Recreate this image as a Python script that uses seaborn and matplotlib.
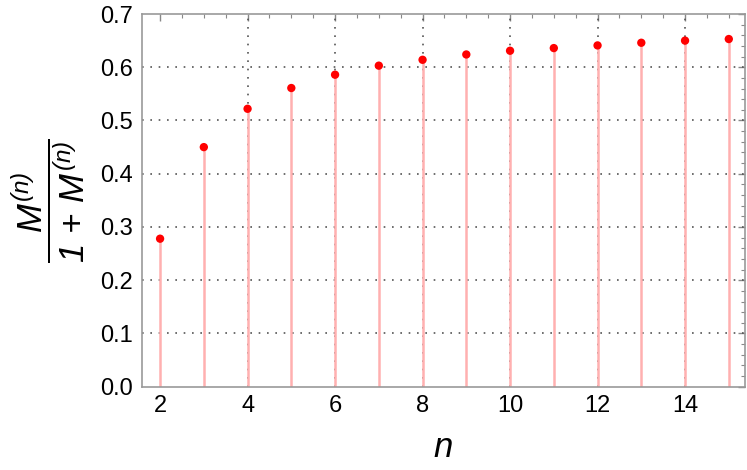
import matplotlib
matplotlib.use("Agg")
import matplotlib.pyplot as plt
import numpy as np
import pandas as pd
import seaborn as sns
from matplotlib.ticker import MultipleLocator

n_vals = [2, 3, 4, 5, 6, 7, 8, 9, 10, 11, 12, 13, 14, 15]
ratio = [0.278, 0.450, 0.522, 0.561, 0.586, 0.603, 0.614, 0.624,
         0.631, 0.636, 0.641, 0.646, 0.650, 0.653]
x_ticks = [2, 4, 6, 8, 10, 12, 14]
y_ticks = [0.0, 0.1, 0.2, 0.3, 0.4, 0.5, 0.6, 0.7]

df = pd.DataFrame({'n': n_vals, 'ratio': ratio})

sns.set_style("white")
plt.rcParams['font.family'] = ['Liberation Sans', 'DejaVu Sans']
plt.rcParams['mathtext.fontset'] = 'custom'
plt.rcParams['mathtext.it'] = 'Liberation Sans:italic'
plt.rcParams['mathtext.rm'] = 'Liberation Sans:italic'

fig = plt.figure(figsize=(7.47, 4.70), dpi=100)
ax = fig.add_axes([0.1897, 0.1772, 0.8076, 0.793])

# grid (none at the first tick, x=2)
for x in x_ticks[1:]:
    ax.axvline(x, color='#555555', lw=1.2, ls=(0, (1, 4)), zorder=1)
for y in y_ticks[1:-1]:
    ax.axhline(y, color='#555555', lw=1.2, ls=(0, (1, 4)), zorder=1)

# stems
ax.vlines(df['n'], 0, df['ratio'], color='#ffb0b0', lw=1.8, zorder=2)
sns.scatterplot(data=df, x='n', y='ratio', color='#ff0000', s=36,
                edgecolor='none', zorder=3, ax=ax)

ax.set_xlim(1.58, 15.37)
ax.set_ylim(0, 0.7)
ax.set_xticks(x_ticks)
ax.set_yticks(y_ticks)
ax.set_yticklabels([f'{v:.1f}' for v in y_ticks])
ax.xaxis.set_minor_locator(MultipleLocator(0.5))
ax.yaxis.set_minor_locator(MultipleLocator(0.02))
ax.tick_params(which='both', direction='in', top=True, right=True,
               color='#888888', labelsize=17, labelcolor='black', pad=6)
ax.tick_params(which='major', length=5, width=1)
ax.tick_params(which='minor', length=3, width=0.8)
for sp in ax.spines.values():
    sp.set_color('#999999')
    sp.set_linewidth(1.2)

ax.set_xlabel('$n$', fontsize=25, labelpad=10, color='black')
ax.set_ylabel(r'$\dfrac{M^{(n)}}{1 \/+\/ M^{(n)}}$', fontsize=25,
              labelpad=10, color='black')

fig.savefig('out.png', dpi=100)
